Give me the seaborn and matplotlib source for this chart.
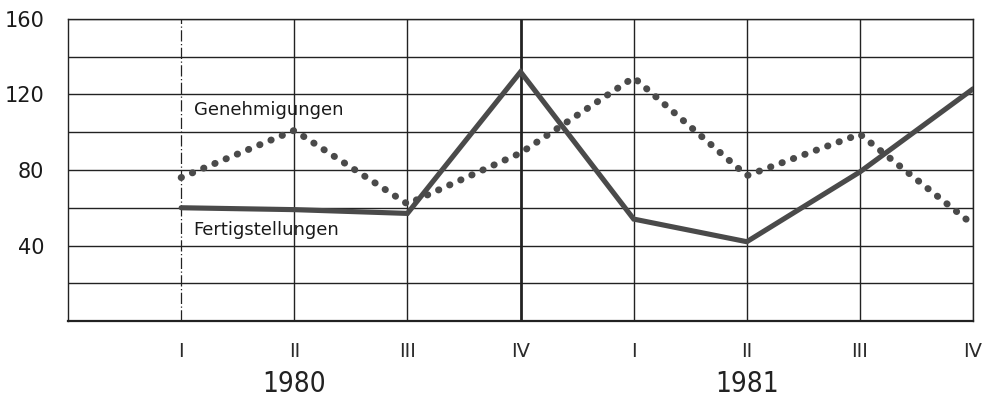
import pandas as pd
import matplotlib.pyplot as plt
import seaborn as sns

# Quarterly values, 1980 I .. 1981 IV
quarters = ['I', 'II', 'III', 'IV', 'I', 'II', 'III', 'IV']
years = ['1980', '1981']
fertigstellungen = [60, 59, 57, 132, 54, 42, 79, 123]
genehmigungen = [76, 101, 62, 89, 129, 77, 99, 51]

df = pd.DataFrame({
    'pos': range(len(quarters)),
    'Fertigstellungen': fertigstellungen,
    'Genehmigungen': genehmigungen,
})

sns.set_style('white')
plt.rcParams['font.family'] = ['DejaVu Sans']

fig = plt.figure(figsize=(9.83, 4.0), dpi=100)
ax = fig.add_axes([0.0692, 0.1975, 0.9207, 0.755])

line_col = '#4a4a4a'

sns.lineplot(data=df, x='pos', y='Fertigstellungen', ax=ax, color=line_col,
             linewidth=3.7, solid_joinstyle='miter', zorder=4)
sns.lineplot(data=df, x='pos', y='Genehmigungen', ax=ax, color=line_col,
             linewidth=5.0, dashes=False, zorder=3, clip_on=False)
gl = ax.lines[-1]
gl.set_linestyle((0, (0.05, 1.7)))
gl.set_dash_capstyle('round')

ax.set_xlim(-1, 7)
ax.set_ylim(0, 160)

ax.set_yticks(range(0, 161, 20))
ax.set_yticklabels(['' if v % 40 or v == 0 else str(v) for v in range(0, 161, 20)])
ax.set_xticks(range(len(quarters)))
ax.set_xticklabels(quarters)

ax.grid(True, color='#222222', linewidth=1.0)
ax.set_axisbelow(True)
xg = ax.get_xgridlines()
xg[0].set_linestyle((0, (9, 2, 1, 2)))
xg[0].set_linewidth(0.9)
xg[3].set_linewidth(2.0)

for side in ['top', 'left', 'right']:
    ax.spines[side].set_color('#222222')
    ax.spines[side].set_linewidth(1.0)
ax.spines['bottom'].set_color('#222222')
ax.spines['bottom'].set_linewidth(1.6)

ax.tick_params(axis='y', length=0, pad=17, labelsize=15, labelcolor='#1a1a1a')
ax.tick_params(axis='x', length=0, pad=15, labelsize=14, labelcolor='#2a2a2a')

ax.set_xlabel('')
ax.set_ylabel('')

ax.text(0.11, 112, 'Genehmigungen', fontsize=13, color='#1a1a1a', va='center')
ax.text(0.11, 48, 'Fertigstellungen', fontsize=13, color='#1a1a1a', va='center')

trans = ax.get_xaxis_transform()
for x, yr in zip([1, 5], years):
    ax.text(x, -0.21, yr, transform=trans, ha='center', va='center',
            fontsize=20, color='#222222', fontstretch='condensed')

fig.savefig('out.png', dpi=100, facecolor='white')
